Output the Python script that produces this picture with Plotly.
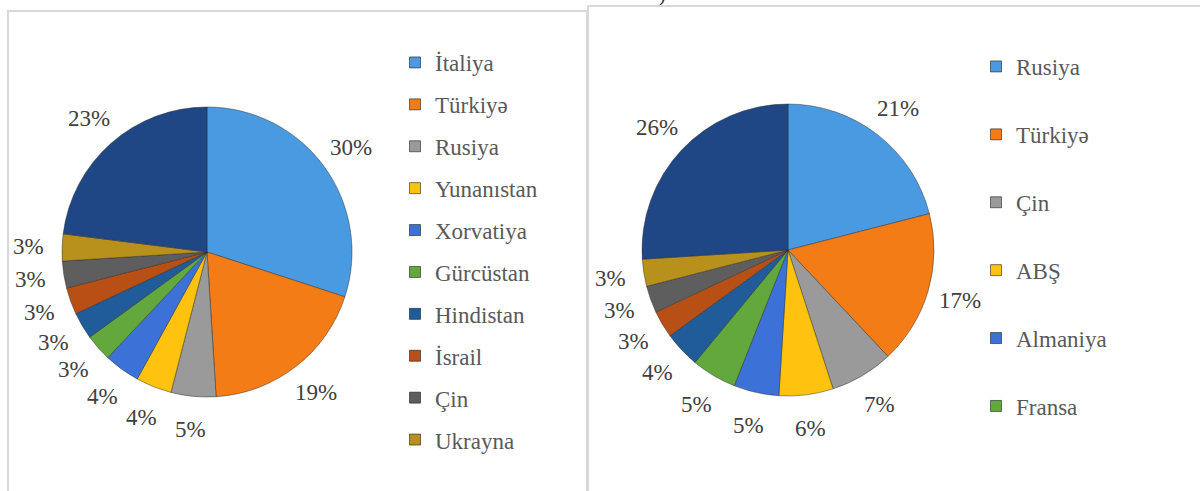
import math
import plotly.graph_objects as go

W, H = 1200, 491

# ---- data ----
left_labels = ["İtaliya", "Türkiyə", "Rusiya", "Yunanıstan", "Xorvatiya", "Gürcüstan",
               "Hindistan", "İsrail", "Çin", "Ukrayna", "Digər"]
left_values = [30, 19, 5, 4, 4, 3, 3, 3, 3, 3, 23]
left_legend = ["İtaliya", "Türkiyə", "Rusiya", "Yunanıstan", "Xorvatiya", "Gürcüstan",
               "Hindistan", "İsrail", "Çin", "Ukrayna"]

right_labels = ["Rusiya", "Türkiyə", "Çin", "ABŞ", "Almaniya", "Fransa",
                "Digər 1", "Digər 2", "Digər 3", "Digər 4", "Digər"]
right_values = [21, 17, 7, 6, 5, 5, 4, 3, 3, 3, 26]
right_legend = ["Rusiya", "Türkiyə", "Çin", "ABŞ", "Almaniya", "Fransa"]

palette = ["#4A9AE2", "#F47C16", "#9A9A9A", "#FFC20E", "#3C72D8", "#62A83C",
           "#1F5C99", "#B84F14", "#5E5E5E", "#B8901C", "#1F4785"]

FONT = "Liberation Serif"
FS = 23


def px_x(v):
    return v / W


def px_y(v):
    return 1 - v / H


fig = go.Figure()
annotations = []


def add_pie(labels, values, cx, cy, r, label_factor=1.23):
    fig.add_trace(go.Pie(
        labels=labels, values=values, sort=False, direction="clockwise", rotation=0,
        marker=dict(colors=palette, line=dict(color="rgba(40,40,40,0.45)", width=1)),
        textinfo="none",
        showlegend=False, hoverinfo="label+value",
        domain=dict(x=[px_x(cx - r), px_x(cx + r)], y=[px_y(cy + r), px_y(cy - r)]),
    ))
    # percentage labels placed along each slice's mid-angle, outside the pie
    total = float(sum(values))
    cum = 0.0
    for v in values:
        mid = (cum + v / 2.0) / total * 2 * math.pi
        cum += v
        lx = cx + label_factor * r * math.sin(mid)
        ly = cy - label_factor * r * math.cos(mid)
        annotations.append(dict(
            text="%d%%" % round(v / total * 100), xref="paper", yref="paper",
            x=px_x(lx), y=px_y(ly), xanchor="center", yanchor="middle",
            showarrow=False, font=dict(family=FONT, size=FS, color="#404040")))


add_pie(left_labels, left_values, 207, 252, 145)
add_pie(right_labels, right_values, 788, 250, 146)

# legend entries (dummy traces)
for i, name in enumerate(left_legend):
    fig.add_trace(go.Scatter(
        x=[None], y=[None], mode="markers", name=name, legend="legend",
        legendgroup="L%d" % i,
        marker=dict(symbol="square", size=11, color=palette[i],
                    line=dict(color="rgba(0,0,0,0.5)", width=1)),
    ))
for i, name in enumerate(right_legend):
    fig.add_trace(go.Scatter(
        x=[None], y=[None], mode="markers", name=name, legend="legend2",
        legendgroup="R%d" % i,
        marker=dict(symbol="square", size=11, color=palette[i],
                    line=dict(color="rgba(0,0,0,0.5)", width=1)),
    ))

legend_font = dict(family=FONT, size=FS, color="#595959")

annotations.append(dict(text=")", xref="paper", yref="paper", x=px_x(662), y=px_y(-6),
                        xanchor="center", yanchor="middle", showarrow=False,
                        font=dict(family=FONT, size=20, color="#222222")))

fig.update_layout(
    width=W, height=H,
    margin=dict(l=0, r=0, t=0, b=0),
    paper_bgcolor="white", plot_bgcolor="white",
    xaxis=dict(visible=False), yaxis=dict(visible=False),
    legend=dict(x=px_x(395), y=px_y(41), xanchor="left", yanchor="top",
                font=legend_font, tracegroupgap=9, bgcolor="rgba(0,0,0,0)",
                itemclick=False, itemdoubleclick=False),
    legend2=dict(x=px_x(976), y=px_y(45), xanchor="left", yanchor="top",
                 font=legend_font, tracegroupgap=35, bgcolor="rgba(0,0,0,0)",
                 itemclick=False, itemdoubleclick=False),
    shapes=[
        dict(type="rect", xref="paper", yref="paper",
             x0=px_x(8), x1=px_x(587), y0=px_y(500), y1=px_y(11),
             line=dict(color="#D9D9D9", width=2), fillcolor="rgba(0,0,0,0)"),
        dict(type="rect", xref="paper", yref="paper",
             x0=px_x(588), x1=px_x(1210), y0=px_y(500), y1=px_y(6),
             line=dict(color="#D9D9D9", width=2), fillcolor="rgba(0,0,0,0)"),
    ],
    annotations=annotations,
)

fig.write_html("out.html", config={"displayModeBar": False},
               post_script="document.body.style.margin='0';")
